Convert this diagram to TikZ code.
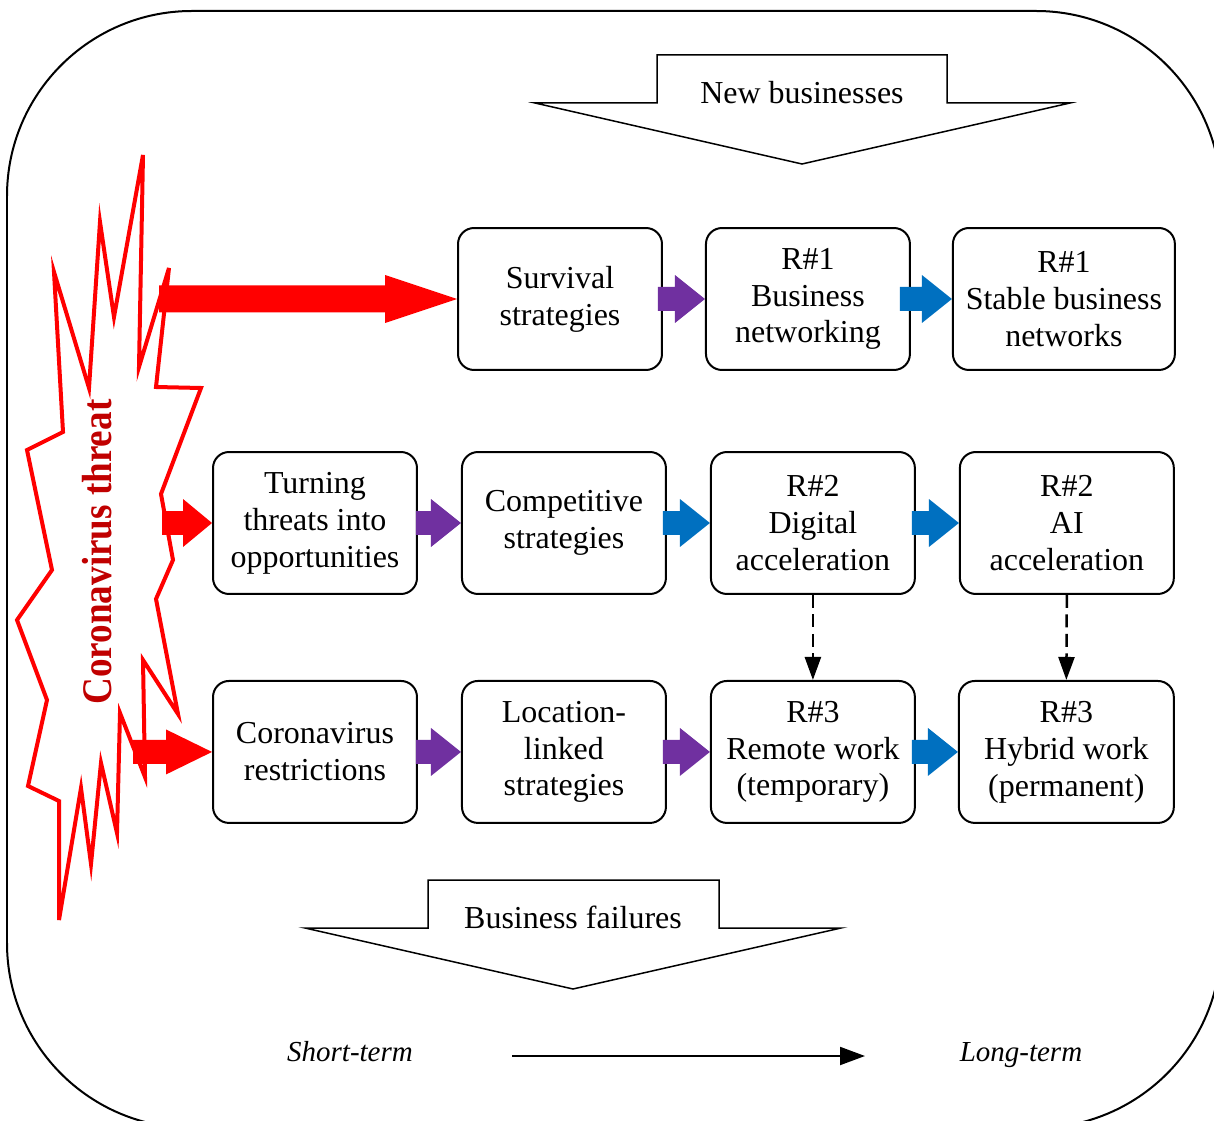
\documentclass[tikz,border=0pt]{standalone}
\usepackage{fontspec}
\setmainfont{Liberation Serif}
\usepackage{graphicx}
\usepackage{tikz}
\usetikzlibrary{arrows.meta, positioning, calc}

\definecolor{threatred}{HTML}{FF0000}
\definecolor{darkred}{HTML}{C00000}
\definecolor{stepviolet}{HTML}{7030A0}
\definecolor{stepblue}{HTML}{0070C0}

\newcommand{\boxfont}{\fontsize{18.2}{21}\selectfont}
% colour, from, to, shaft half width, head half width, head length
\newcommand{\fatarrow}[6]{%
  \fill[#1] let \p1=(#2), \p2=(#3) in
    (\x1,\y2+#4) -- (\x2-#6,\y2+#4) -- (\x2-#6,\y2+#5) -- (\x2,\y2)
    -- (\x2-#6,\y2-#5) -- (\x2-#6,\y2-#4) -- (\x1,\y2-#4) -- cycle;}

\begin{document}
\begin{tikzpicture}[
  x=0.02cm, y=-0.02cm,
  node distance=1.64cm and 0.86cm,
  box/.style={draw, line width=0.04cm, rounded corners=0.32cm, minimum width=4.08cm,
              minimum height=2.84cm, align=center, font=\boxfont, inner sep=2pt},
  hollow/.style={draw, line width=0.03cm, fill=white, line join=miter},
  lbl/.style={font=\boxfont},
  term/.style={font=\fontsize{16.5}{18}\selectfont\itshape, anchor=base},
  dasharr/.style={-{Triangle[length=0.46cm, width=0.32cm]}, line width=0.05cm,
                  dash pattern=on 0.26cm off 0.13cm},
  timearr/.style={-{Triangle[length=0.5cm, width=0.36cm]}, line width=0.04cm}
]
\useasboundingbox (0,0) rectangle (1214,1121);

% frame
\draw[line width=0.04cm, rounded corners=3.7cm] (7,11) rectangle (1221,1128);

% starburst
\draw[threatred, line width=0.08cm]
  (143,155) -- (114,317) -- (100,222) -- (89,388) -- (54,272) -- (63,432)
  -- (27,450) -- (52,570) -- (17,620) -- (47,700) -- (28,786) -- (59,801)
  -- (59,920) -- (81,788) -- (91,864) -- (101,763) -- (117,833) -- (120,713)
  -- (145,777) -- (143,660) -- (178,714) -- (156,599) -- (173,560) -- (161,494)
  -- (201,388) -- (156,387) -- (169,268) -- (139,367) -- cycle;
\node[rotate=90, text=darkred, font=\fontsize{24}{24}\selectfont\bfseries] (threat) at (97,552)
  {\scalebox{0.88}[1]{Coronavirus threat}};

% rows
\node[box] (surv) at (560,299) {Survival\\strategies};
\node[box, right=0.84cm of surv] (bnet) {R\#1\\Business\\networking};
\node[box, right=0.82cm of bnet, minimum width=4.44cm] (stable) {R\#1\\Stable business\\networks};

\node[box] (turn) at (315,523) {Turning\\threats into\\opportunities};
\node[box, right=of turn] (comp) {Competitive\\strategies};
\node[box, right=of comp] (digi) {R\#2\\Digital\\acceleration};
\node[box, right=of digi, minimum width=4.28cm] (ai) {R\#2\\AI\\acceleration};

\node[box, below=1.7cm of turn] (restr) {Coronavirus\\restrictions};
\node[box, right=of restr] (loc) {Location-\\linked\\strategies};
\node[box, right=of loc] (remote) {R\#3\\Remote work\\(temporary)};
\node[box, right=0.84cm of remote, minimum width=4.3cm] (hybrid) {R\#3\\Hybrid work\\(permanent)};

% red arrows from the threat
\coordinate (r1) at (159,299);
\coordinate (r2) at (162,523);
\coordinate (r3) at (133,752);
\fatarrow{threatred}{r1}{surv.west}{0.27cm}{0.48cm}{1.44cm}
\fatarrow{threatred}{r2}{turn.west}{0.24cm}{0.48cm}{0.58cm}
\fatarrow{threatred}{r3}{restr.west}{0.24cm}{0.45cm}{0.92cm}

% step arrows
\fatarrow{stepviolet}{[xshift=-0.1cm]surv.east}{bnet.west}{0.24cm}{0.48cm}{0.6cm}
\fatarrow{stepblue}{[xshift=-0.22cm]bnet.east}{stable.west}{0.24cm}{0.48cm}{0.6cm}
\fatarrow{stepviolet}{[xshift=-0.04cm]turn.east}{comp.west}{0.24cm}{0.48cm}{0.6cm}
\fatarrow{stepblue}{[xshift=-0.08cm]comp.east}{digi.west}{0.24cm}{0.48cm}{0.6cm}
\fatarrow{stepblue}{[xshift=-0.08cm]digi.east}{ai.west}{0.24cm}{0.48cm}{0.6cm}
\fatarrow{stepviolet}{[xshift=-0.04cm]restr.east}{loc.west}{0.24cm}{0.48cm}{0.6cm}
\fatarrow{stepviolet}{[xshift=-0.08cm]loc.east}{remote.west}{0.24cm}{0.48cm}{0.6cm}
\fatarrow{stepblue}{[xshift=-0.08cm]remote.east}{hybrid.west}{0.24cm}{0.48cm}{0.6cm}

\draw[dasharr] (digi.south) -- (remote.north);
\draw[dasharr] (ai.south) -- (hybrid.north);

% new businesses / failures
\draw[hollow] (535,103) -- (657,103) -- (657,55) -- (947,55) -- (947,103)
  -- (1070,103) -- (802,164) -- cycle;
\node[lbl] (newbiz) at (802,93) {New businesses};
\draw[hollow] (305,928) -- (428,928) -- (428,880) -- (719,880) -- (719,928)
  -- (841,928) -- (573,989) -- cycle;
\node[lbl] (fail) at (573,917) {Business failures};

% time axis
\node[term] (short) at (350,1061) {Short-term};
\node[term] (long) at (1021,1061) {Long-term};
\coordinate (t0) at (512,1056);
\coordinate (t1) at (865,1056);
\draw[timearr] (t0) -- (t1);

\end{tikzpicture}
\end{document}
